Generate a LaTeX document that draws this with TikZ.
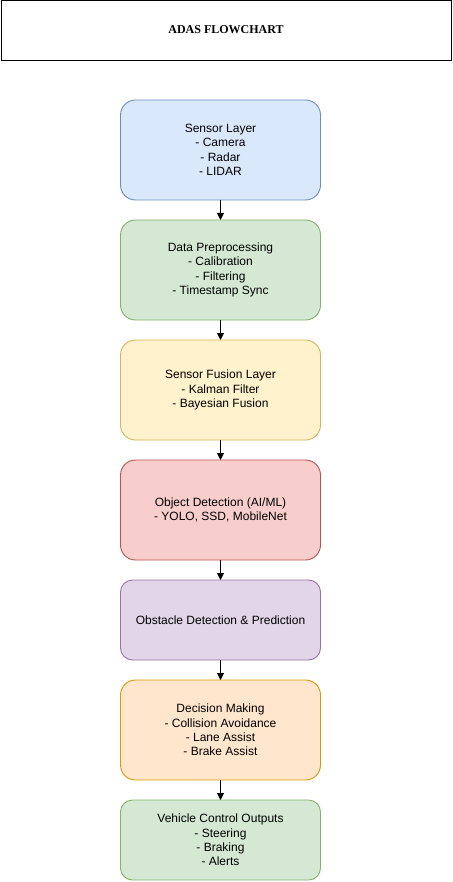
\documentclass[tikz,border=0pt]{standalone}
\usepackage{fontspec}
\setmainfont{Liberation Sans}
\newfontfamily\titlefont{Liberation Serif}
\usetikzlibrary{positioning,arrows.meta}
\definecolor{azulF}{HTML}{DAE8FC}\definecolor{azulB}{HTML}{6C8EBF}
\definecolor{verdeF}{HTML}{D5E8D4}\definecolor{verdeB}{HTML}{82B366}
\definecolor{amarF}{HTML}{FFF2CC}\definecolor{amarB}{HTML}{D6B656}
\definecolor{rojoF}{HTML}{F8CECC}\definecolor{rojoB}{HTML}{B85450}
\definecolor{moraF}{HTML}{E1D5E7}\definecolor{moraB}{HTML}{9673A6}
\definecolor{naraF}{HTML}{FFE6CC}\definecolor{naraB}{HTML}{D79B00}
\tikzset{
  etapa/.style={draw, line width=0.9pt, rounded corners=15pt, minimum width=200pt, minimum height=100pt,
    align=center, font=\fontsize{12}{14.4}\selectfont, inner sep=0pt, outer sep=0pt},
  etapacorta/.style={etapa, minimum height=80pt, rounded corners=12pt},
  flecha/.style={-{Triangle[length=7pt,width=7pt]}, line width=0.9pt}
}
\begin{document}
\begin{tikzpicture}[x=1pt,y=1pt, node distance=20pt]
    % Fija los margenes
    \useasboundingbox (0,0) rectangle (452,-882);

    % Dibuja el titulo
    \node[draw, line width=0.9pt, minimum width=450pt, minimum height=60pt, inner sep=0pt,
      font=\titlefont\bfseries\fontsize{12}{14.4}\selectfont] (titulo) at (226,-30) {ADAS FLOWCHART};

    % Dibuja las etapas
    \node[etapa, fill=azulF, draw=azulB] (sensores) at (220.5,-150)
      {Sensor Layer\\- Camera\\- Radar\\- LIDAR};
    \node[etapa, fill=verdeF, draw=verdeB, below=of sensores] (preproc)
      {Data Preprocessing\\- Calibration\\- Filtering\\- Timestamp Sync};
    \node[etapa, fill=amarF, draw=amarB, below=of preproc] (fusion)
      {Sensor Fusion Layer\\- Kalman Filter\\- Bayesian Fusion};
    \node[etapa, fill=rojoF, draw=rojoB, below=of fusion] (deteccion)
      {Object Detection (AI/ML)\\- YOLO, SSD, MobileNet};
    \node[etapacorta, fill=moraF, draw=moraB, below=of deteccion] (obstaculos)
      {Obstacle Detection \& Prediction};
    \node[etapa, fill=naraF, draw=naraB, below=of obstaculos] (decision)
      {Decision Making\\- Collision Avoidance\\- Lane Assist\\- Brake Assist};
    \node[etapacorta, fill=verdeF, draw=verdeB, below=of decision] (control)
      {Vehicle Control Outputs\\- Steering\\- Braking\\- Alerts};

    % Dibuja las flechas
    \draw[flecha] (sensores) -- (preproc);
    \draw[flecha] (preproc) -- (fusion);
    \draw[flecha] (fusion) -- (deteccion);
    \draw[flecha] (deteccion) -- (obstaculos);
    \draw[flecha] (obstaculos) -- (decision);
    \draw[flecha] (decision) -- (control);
\end{tikzpicture}
\end{document}
